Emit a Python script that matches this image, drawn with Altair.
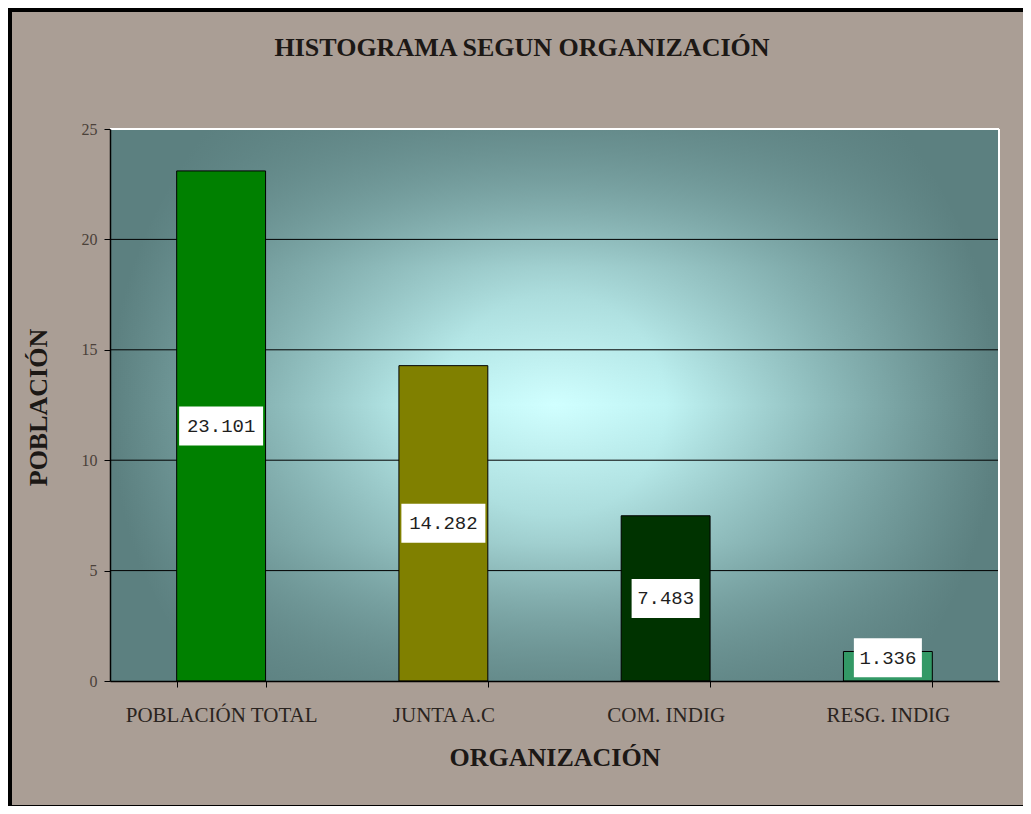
import altair as alt
import pandas as pd

# ---- data ----
categories = ["POBLACIÓN TOTAL", "JUNTA A.C", "COM. INDIG", "RESG. INDIG"]
values = [23.101, 14.282, 7.483, 1.336]
y_ticks = [0, 5, 10, 15, 20, 25]
grid_values = [5, 10, 15, 20]

# ---- styles ----
bar_colors = ["#008000", "#808000", "#003300", "#339966"]
title_text = "HISTOGRAMA SEGUN ORGANIZACIÓN"
x_title = "ORGANIZACIÓN"
y_title = "POBLACIÓN"

W, H = 889, 552
SERIF = "Liberation Serif"
MONO = "Liberation Mono"
TXT = "#1c1815"

df = pd.DataFrame({"org": categories, "v": values})
one = pd.DataFrame({"k": [0]})
grid_df = pd.DataFrame({"g": grid_values})

y_scale = alt.Scale(domain=[0, 25], nice=False, zero=True)
y_axis = alt.Axis(
    values=y_ticks, grid=False, domain=True, domainColor="black", domainWidth=1.5,
    ticks=True, tickColor="black", tickSize=6, tickWidth=1,
    labelFont=SERIF, labelFontSize=16, labelColor="#4a4139", labelPadding=7,
    title=y_title, titleFont=SERIF, titleFontSize=26, titleFontWeight="bold",
    titleColor=TXT, titleAngle=270, titleX=-72, titleY=278,
    titleAlign="center", titleBaseline="middle", zindex=1,
)
x_axis = alt.Axis(
    labelAngle=0, tickBand="extent", ticks=True, tickSize=6, tickColor="black",
    domainColor="black", domainWidth=1.5, grid=False,
    labelFont=SERIF, labelFontSize=21, labelColor="#2a2420", labelLimit=400,
    labelOverlap=False, labelBaseline="alphabetic", labelPadding=34,
    title=x_title, titleFont=SERIF, titleFontSize=26, titleFontWeight="bold",
    titleColor=TXT, titleY=84, titleBaseline="alphabetic", zindex=1,
)
x_enc = alt.X("org:N", sort=categories,
              scale=alt.Scale(paddingInner=0.6, paddingOuter=0.3), axis=x_axis)

# background panel (granite-like tone) inside black frame
bg = alt.Chart(one).mark_rect(color="#aa9e95").encode(
    x=alt.value(-98), x2=alt.value(913), y=alt.value(-117), y2=alt.value(676))

# plot area gradient (from center)
radial = alt.Chart(one).mark_rect(
    color=alt.RadialGradient(
        gradient="radial", x1=0.5, y1=0.5, r1=0, x2=0.5, y2=0.5, r2=0.5,
        stops=[alt.GradientStop(color="#d0ffff", offset=0),
               alt.GradientStop(color="#c0f4f4", offset=0.25),
               alt.GradientStop(color="#8fbdbd", offset=0.6),
               alt.GradientStop(color="#5c8080", offset=1)])
).encode(x=alt.value(0), x2=alt.value(W), y=alt.value(0), y2=alt.value(H))

vertical = alt.Chart(one).mark_rect(
    color=alt.LinearGradient(
        gradient="linear", x1=0, y1=0, x2=0, y2=1,
        stops=[alt.GradientStop(color="rgba(92,128,128,0.8)", offset=0),
               alt.GradientStop(color="rgba(92,128,128,0.25)", offset=0.25),
               alt.GradientStop(color="rgba(92,128,128,0)", offset=0.5),
               alt.GradientStop(color="rgba(92,128,128,0.25)", offset=0.75),
               alt.GradientStop(color="rgba(92,128,128,0.8)", offset=1)])
).encode(x=alt.value(0), x2=alt.value(W), y=alt.value(0), y2=alt.value(H))

grid = alt.Chart(grid_df).mark_rule(color="black", strokeWidth=1).encode(
    y=alt.Y("g:Q", scale=y_scale, axis=y_axis))

top_edge = alt.Chart(one).mark_rule(color="white", strokeWidth=2).encode(
    x=alt.value(0), x2=alt.value(W), y=alt.value(0))
right_edge = alt.Chart(one).mark_rule(color="white", strokeWidth=2).encode(
    x=alt.value(W), y=alt.value(0), y2=alt.value(H))

bars = alt.Chart(df).mark_bar(stroke="black", strokeWidth=1, opacity=1).encode(
    x=x_enc,
    y=alt.Y("v:Q", scale=y_scale, axis=y_axis),
    color=alt.Color("org:N", scale=alt.Scale(domain=categories, range=bar_colors), legend=None),
)

box5 = "M-1.744,-1L1.744,-1L1.744,1L-1.744,1Z"
box6 = "M-2.154,-1L2.154,-1L2.154,1L-2.154,1Z"

lab = alt.Chart(df).transform_calculate(
    mid="max(datum.v / 2, 1.05)",
    txt="format(datum.v, '.3f')",
    n="length(format(datum.v, '.3f'))",
)

boxes = lab.mark_point(filled=True, color="white", opacity=1, strokeWidth=0, size=1521).encode(
    x=x_enc,
    y=alt.Y("mid:Q", scale=y_scale, axis=y_axis),
    shape=alt.Shape("n:O", scale=alt.Scale(domain=[5, 6], range=[box5, box6]), legend=None),
)

texts = lab.mark_text(font=MONO, fontSize=19, color="#1e1e1e", baseline="middle").encode(
    x=x_enc,
    y=alt.Y("mid:Q", scale=y_scale, axis=y_axis),
    text="txt:N",
)

title = alt.Chart(one).mark_text(
    text=title_text, font=SERIF, fontSize=26, fontWeight="bold", color=TXT,
    align="center", baseline="middle",
).encode(x=alt.value(412), y=alt.value(-81))

chart = alt.layer(
    bg, radial, vertical, grid, top_edge, right_edge, bars, boxes, texts, title
).properties(
    width=W, height=H,
    padding={"left": 102, "top": 121, "right": 24, "bottom": 125},
    autosize=alt.AutoSizeParams(type="none"),
    background="black",
).configure_view(strokeWidth=0)

chart.save("out.html", embed_options={"renderer": "svg", "actions": False})
